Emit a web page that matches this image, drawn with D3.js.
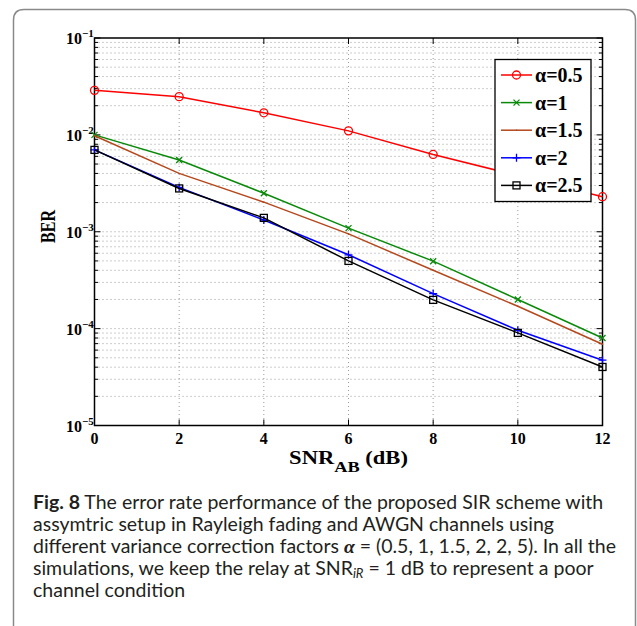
<!DOCTYPE html>
<html>
<head>
<meta charset="utf-8">
<script src="https://cdn.jsdelivr.net/npm/d3@7"></script>
<style>
  body { margin: 0; background: #fff; }
  svg { display: block; }
</style>
</head>
<body>
<svg id="chart" width="637" height="626"></svg>
<script>
// SNR values (dB) on the x axis
var snr = [0, 2, 4, 6, 8, 10, 12];

// BER for each variance correction factor
var ber05 = [0.0288, 0.0248, 0.0169, 0.0110, 0.00628, 0.0038, 0.0023];
var ber1 = [0.0100, 0.0055, 0.0025, 0.00109, 0.000497, 0.000200, 0.000080];
var ber15 = [0.0098, 0.0040, 0.00202, 0.00095, 0.00040, 0.00017, 0.000069];
var ber2 = [0.0070, 0.00287, 0.00132, 0.000578, 0.00023, 0.0000962, 0.0000472];
var ber25 = [0.0070, 0.0028, 0.00139, 0.00050, 0.000198, 0.0000904, 0.0000402];

var seriesNames = ["\u03b1=0.5", "\u03b1=1", "\u03b1=1.5", "\u03b1=2", "\u03b1=2.5"];
var xTicks = [0, 2, 4, 6, 8, 10, 12];
var yExponents = [-1, -2, -3, -4, -5];

var captionLines = [
    "The error rate performance of the proposed SIR scheme with",
    "assymtric setup in Rayleigh fading and AWGN channels using",
    "different variance correction factors ",
    "simulations, we keep the relay at SNR",
    "channel condition"
];

var series = [
    {name: seriesNames[0], values: ber05, color: "#ff0000", marker: "circle"},
    {name: seriesNames[1], values: ber1, color: "#0a8a0a", marker: "x"},
    {name: seriesNames[2], values: ber15, color: "#b5481c", marker: "dot"},
    {name: seriesNames[3], values: ber2, color: "#0000ff", marker: "plus"},
    {name: seriesNames[4], values: ber25, color: "#000000", marker: "square"}
];

var svg = d3.select("#chart");
var serif = "'Liberation Serif', 'Times New Roman', serif";

// outer figure frame (open at the bottom)
svg.append("path")
    .attr("d", "M13.5,640 L13.5,20 Q13.5,9.5 24,9.5 L625,9.5 Q635.5,9.5 635.5,20 L635.5,640")
    .attr("fill", "none")
    .attr("stroke", "#8a8a8a")
    .attr("stroke-width", 1.5);

var pLeft = 94.5, pRight = 602.5, pTop = 38, pBottom = 425.5;

var x = d3.scaleLinear().domain([0, 12]).range([pLeft, pRight]);
var y = d3.scaleLog().domain([1e-5, 1e-1]).range([pBottom, pTop]);

var grid = svg.append("g");

// vertical grid at major x ticks
xTicks.forEach(function (t) {
    if (t === 0 || t === 12) return;
    grid.append("line")
        .attr("x1", x(t)).attr("x2", x(t))
        .attr("y1", pTop).attr("y2", pBottom)
        .attr("stroke", "#9a9a9a")
        .attr("stroke-width", 1)
        .attr("stroke-dasharray", "1,3");
});

// horizontal grid at every log step
var yMinor = [];
for (var e = -5; e < -1; e++) {
    for (var m = 1; m <= 9; m++) {
        yMinor.push(m * Math.pow(10, e));
    }
}
yMinor.forEach(function (v) {
    if (v === 1e-5) return;
    grid.append("line")
        .attr("x1", pLeft).attr("x2", pRight)
        .attr("y1", y(v)).attr("y2", y(v))
        .attr("stroke", "#9a9a9a")
        .attr("stroke-width", 1)
        .attr("stroke-dasharray", "1,3");
});

// inside ticks on all four sides
var ticks = svg.append("g").attr("stroke", "#000").attr("stroke-width", 1);
xTicks.forEach(function (t) {
    ticks.append("line").attr("x1", x(t)).attr("x2", x(t)).attr("y1", pBottom).attr("y2", pBottom - 6);
    ticks.append("line").attr("x1", x(t)).attr("x2", x(t)).attr("y1", pTop).attr("y2", pTop + 6);
});
yMinor.concat([1e-1]).forEach(function (v) {
    var len = Math.abs(Math.log10(v) - Math.round(Math.log10(v))) < 1e-9 ? 6 : 3.5;
    ticks.append("line").attr("x1", pLeft).attr("x2", pLeft + len).attr("y1", y(v)).attr("y2", y(v));
    ticks.append("line").attr("x1", pRight).attr("x2", pRight - len).attr("y1", y(v)).attr("y2", y(v));
});

// axes box
svg.append("rect")
    .attr("x", pLeft).attr("y", pTop)
    .attr("width", pRight - pLeft).attr("height", pBottom - pTop)
    .attr("fill", "none")
    .attr("stroke", "#000")
    .attr("stroke-width", 1.5);

// x tick labels
svg.append("g").selectAll("text")
    .data(xTicks)
    .enter()
    .append("text")
    .attr("x", function (d) { return x(d); })
    .attr("y", 444)
    .attr("text-anchor", "middle")
    .attr("font-family", serif)
    .attr("font-weight", "bold")
    .attr("font-size", 16)
    .text(function (d) { return d; });

// y tick labels 10^e
yExponents.forEach(function (ex) {
    svg.append("text")
        .attr("x", 82)
        .attr("y", y(Math.pow(10, ex)) + 6)
        .attr("text-anchor", "end")
        .attr("font-family", serif)
        .attr("font-weight", "bold")
        .attr("font-size", 16)
        .text("10");
    svg.append("text")
        .attr("x", 82)
        .attr("y", y(Math.pow(10, ex)) - 1)
        .attr("font-family", serif)
        .attr("font-weight", "bold")
        .attr("font-size", 11)
        .text("\u2212" + (-ex));
});

// axis titles
svg.append("text")
    .attr("transform", "translate(55,226.5) rotate(-90) scale(0.8,1)")
    .attr("text-anchor", "middle")
    .attr("font-family", serif)
    .attr("font-weight", "bold")
    .attr("font-size", 20)
    .text("BER");

var xl = svg.append("text")
    .attr("transform", "translate(348.5,464) scale(1.22,1)")
    .attr("text-anchor", "middle")
    .attr("font-family", serif)
    .attr("font-weight", "bold")
    .attr("font-size", 18.5);
xl.append("tspan").text("SNR");
xl.append("tspan").attr("dy", 8).attr("font-size", 15).text("AB");
xl.append("tspan").attr("dy", -8).text(" (dB)");

// series lines and markers
var line = d3.line()
    .x(function (d, i) { return x(snr[i]); })
    .y(function (d) { return y(d); });

function drawMarker(g, kind, cx, cy, color) {
    if (kind === "circle") {
        g.append("circle").attr("cx", cx).attr("cy", cy).attr("r", 4)
            .attr("fill", "none").attr("stroke", color).attr("stroke-width", 1.3);
    } else if (kind === "square") {
        g.append("rect").attr("x", cx - 3.5).attr("y", cy - 3.5).attr("width", 7).attr("height", 7)
            .attr("fill", "none").attr("stroke", color).attr("stroke-width", 1.3);
    } else if (kind === "plus") {
        g.append("path").attr("d", "M" + (cx - 4) + "," + cy + "h8M" + cx + "," + (cy - 4) + "v8")
            .attr("stroke", color).attr("stroke-width", 1.3);
    } else if (kind === "x") {
        g.append("path").attr("d", "M" + (cx - 3) + "," + (cy - 3) + "l6,6M" + (cx - 3) + "," + (cy + 3) + "l6,-6")
            .attr("stroke", color).attr("stroke-width", 1.3);
    } else if (kind === "dot") {
        g.append("circle").attr("cx", cx).attr("cy", cy).attr("r", 0.8).attr("fill", color);
    }
}

series.forEach(function (s) {
    var g = svg.append("g");
    g.append("path")
        .datum(s.values)
        .attr("d", line)
        .attr("fill", "none")
        .attr("stroke", s.color)
        .attr("stroke-width", 1.5);
    s.values.forEach(function (v, i) {
        drawMarker(g, s.marker, x(snr[i]), y(v), s.color);
    });
});

// legend
var lg = svg.append("g");
lg.append("rect")
    .attr("x", 495).attr("y", 59.5)
    .attr("width", 96).attr("height", 142)
    .attr("fill", "#fff")
    .attr("stroke", "#000")
    .attr("stroke-width", 1.3);
series.forEach(function (s, i) {
    var ly = 75 + i * 27.6;
    lg.append("line")
        .attr("x1", 501).attr("x2", 532)
        .attr("y1", ly).attr("y2", ly)
        .attr("stroke", s.color).attr("stroke-width", 1.5);
    drawMarker(lg, s.marker, 516.5, ly, s.color);
    lg.append("text")
        .attr("x", 535)
        .attr("y", ly + 7)
        .attr("font-family", serif)
        .attr("font-weight", "bold")
        .attr("font-size", 20)
        .text(s.name);
});

// caption
var cap = svg.append("g")
    .attr("font-family", "Lato, 'Open Sans', sans-serif")
    .attr("font-size", 19.5)
    .attr("fill", "#231f20");
var capX = 33, capY = 509, capDy = 22;

var l0 = cap.append("text").attr("x", capX).attr("y", capY);
l0.append("tspan").attr("font-weight", "bold").text("Fig. 8");
l0.append("tspan").text(" " + captionLines[0]);

cap.append("text").attr("x", capX).attr("y", capY + capDy).text(captionLines[1]);

var l2 = cap.append("text").attr("x", capX).attr("y", capY + 2 * capDy);
l2.append("tspan").text(captionLines[2]);
l2.append("tspan").attr("font-style", "italic").attr("font-family", serif).attr("font-weight", "bold").text("\u03b1");
l2.append("tspan").text(" = (0.5, 1, 1.5, 2, 2, 5). In all the");

var l3 = cap.append("text").attr("x", capX).attr("y", capY + 3 * capDy);
l3.append("tspan").text(captionLines[3]);
l3.append("tspan").attr("font-style", "italic").attr("font-size", 13).attr("dy", 3).text("iR");
l3.append("tspan").attr("dy", -3).text(" = 1 dB to represent a poor");

cap.append("text").attr("x", capX).attr("y", capY + 4 * capDy).text(captionLines[4]);
</script>
</body>
</html>
